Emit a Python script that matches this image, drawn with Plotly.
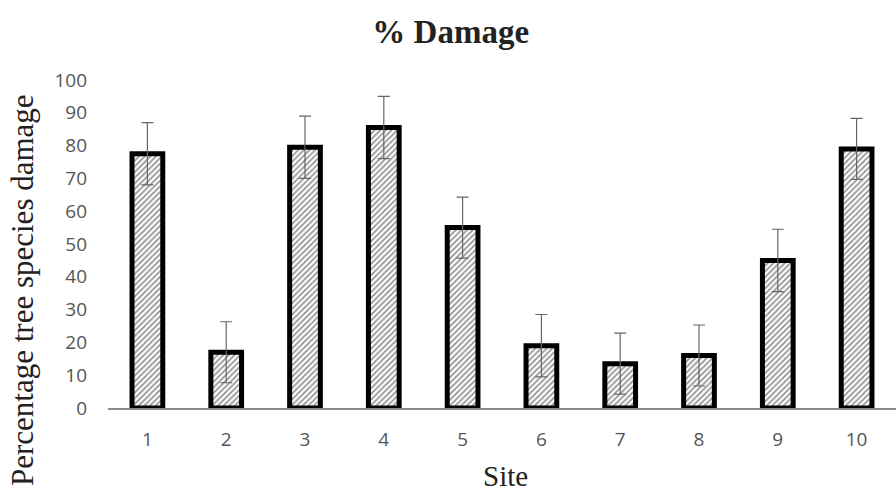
import plotly.graph_objects as go

sites = ["1", "2", "3", "4", "5", "6", "7", "8", "9", "10"]
damage = [77.5, 17, 79.5, 85.5, 55, 19, 13.5, 16, 45, 79]
errors = [9.5, 9.3, 9.5, 9.5, 9.3, 9.5, 9.3, 9.3, 9.5, 9.3]
y_ticks = [0, 10, 20, 30, 40, 50, 60, 70, 80, 90, 100]

fig = go.Figure()
fig.add_trace(go.Bar(
    x=sites, y=damage,
    marker=dict(
        color="white",
        line=dict(color="black", width=5),
        pattern=dict(shape="/", fgcolor="#2a2a2a", bgcolor="white", size=4, solidity=0.45),
    ),
    error_y=dict(type="data", array=errors, visible=True, color="#666666", thickness=1.2, width=6),
))

fig.update_layout(
    width=896, height=493,
    margin=dict(l=108, r=0, t=80, b=85),
    paper_bgcolor="white", plot_bgcolor="white",
    bargap=0.61,
    showlegend=False,
    title=dict(text="<b>% Damage</b>", x=0.503, xref="container", y=1 - 31 / 493, yref="container",
               xanchor="center", yanchor="middle",
               font=dict(family="Liberation Serif", size=33, color="#222222")),
    xaxis=dict(showgrid=False, showline=True, linecolor="#8c8c8c", linewidth=2, ticks="",
               tickfont=dict(family="Open Sans", size=19, color="#555555"), ticklabelstandoff=13,
               zeroline=False),
    yaxis=dict(range=[0, 100], tickvals=y_ticks, showgrid=False, showline=False, zeroline=False,
               ticks="", tickfont=dict(family="Open Sans", size=19, color="#555555"),
               ticklabelstandoff=20),
    annotations=[
        dict(text="Percentage tree species damage", textangle=-90, xref="paper", yref="paper",
             x=(22 - 108) / 788, y=(408 - 290) / 328, xanchor="center", yanchor="middle",
             showarrow=False, font=dict(family="Liberation Serif", size=31, color="#222222")),
        dict(text="Site", xref="paper", yref="paper", x=0.505, y=(408 - 476) / 328,
             xanchor="center", yanchor="middle", showarrow=False,
             font=dict(family="Liberation Serif", size=29, color="#222222")),
    ],
)

fig.write_html("out.html", config={"displayModeBar": False},
               post_script="document.body.style.margin='0';document.body.style.overflow='hidden';")
